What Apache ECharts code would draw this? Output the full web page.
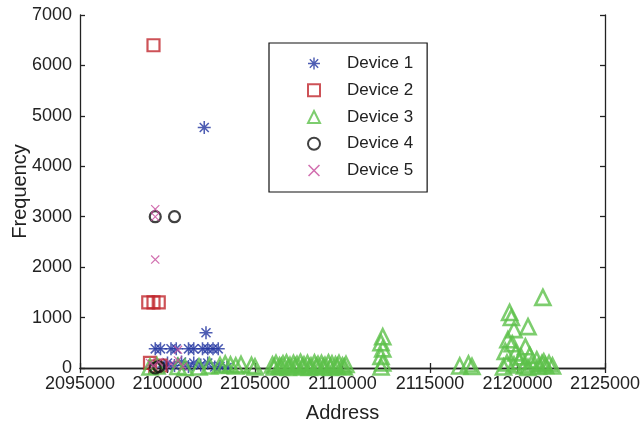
<!DOCTYPE html>
<html>
<head>
<meta charset="utf-8">
<script src="https://cdn.jsdelivr.net/npm/echarts@6/dist/echarts.min.js"></script>
<style>html,body{margin:0;padding:0;background:#fff}#c{width:643px;height:423px}</style>
</head>
<body>
<div id="c"></div>
<script>
// ---- data ----
const seriesNames = ['Device 1', 'Device 2', 'Device 3', 'Device 4', 'Device 5'];
const xTicks = [2095000, 2100000, 2105000, 2110000, 2115000, 2120000, 2125000];
const yTicks = [0, 1000, 2000, 3000, 4000, 5000, 6000, 7000];

const dev1Addr = [2102100, 2102200, 2099300, 2099600, 2100200, 2100500, 2101200, 2101500, 2102000, 2102300, 2102600, 2102900,
  2099800, 2100000, 2100400, 2100800, 2101200, 2101500, 2101900, 2102300, 2102700, 2103000, 2103400];
const dev1Freq = [4770, 700, 380, 380, 380, 380, 380, 380, 380, 380, 380, 380,
  20, 100, 50, 120, 30, 100, 60, 100, 20, 30, 10];

const dev2Addr = [2099200, 2098900, 2099200, 2099500, 2099000, 2099300, 2099600];
const dev2Freq = [6400, 1300, 1300, 1300, 100, 30, 50];

const dev3Addr = [2099000, 2099400, 2100600, 2101000, 2101800, 2102400, 2103000, 2103300, 2103600, 2103900, 2104200, 2104800, 2105000,
  2106000, 2106200, 2106400, 2106600, 2106800, 2107000, 2107200, 2107400, 2107600, 2107800, 2108000, 2108200, 2108400, 2108600, 2108800, 2109000, 2109200, 2109400, 2109600, 2109800, 2110000, 2110200,
  2106100, 2106500, 2106900, 2107300, 2107700, 2108100, 2108500, 2108900, 2109300, 2109700, 2110100,
  2112300, 2112200, 2112300, 2112200, 2112300, 2112200,
  2116700, 2117200, 2117400,
  2121450, 2119550, 2119650, 2120600, 2119800, 2119450, 2120450, 2119700, 2119300, 2119900, 2120200, 2120700, 2121100, 2121500, 2121800, 2119400, 2119800, 2120100, 2120400, 2120800, 2121200, 2121600, 2122000, 2119200, 2120600, 2121400];
const dev3Freq = [20, 40, 30, 10, 20, 40, 50, 80, 60, 40, 70, 50, 20,
  60, 90, 40, 80, 100, 50, 90, 70, 110, 60, 90, 40, 100, 70, 90, 50, 100, 80, 60, 90, 40, 70,
  20, 30, 10, 30, 20, 10, 30, 20, 10, 30, 20,
  620, 500, 380, 230, 100, 20,
  40, 80, 30,
  1400, 1100, 1000, 820, 760, 560, 420, 480, 330, 300, 220, 250, 160, 120, 90, 100, 60, 130, 40, 80, 30, 50, 40, 20, 10, 90];

const dev4Addr = [2099300, 2100400, 2099300, 2099500];
const dev4Freq = [3000, 3000, 0, 30];

const dev5Addr = [2099300, 2099300, 2099300, 2099000, 2099200, 2099500, 2100200, 2100600, 2100900, 2100600];
const dev5Freq = [3150, 3000, 2150, 100, 50, 120, 80, 150, 30, 360];

// ---- symbols ----
const asterisk = 'path://M0,8.8L20,8.8L20,11.2L0,11.2ZM8.8,0L11.2,0L11.2,20L8.8,20ZM2.2,3.9L3.9,2.2L17.8,16.1L16.1,17.8ZM16.1,2.2L17.8,3.9L3.9,17.8L2.2,16.1Z';
const cross = 'path://M2.3,3.7L3.7,2.3L17.7,16.3L16.3,17.7ZM16.3,2.3L17.7,3.7L3.7,17.7L2.3,16.3Z';

function pairs(a, b) { return a.map((v, i) => [v, b[i]]); }

const FONT = 'Liberation Sans, Arial, sans-serif';
const chart = echarts.init(document.getElementById('c'), null, {renderer: 'canvas'});

const hideAxis = {
  axisLine: {show: true, lineStyle: {color: '#222', width: 1.3}},
  axisTick: {show: true, inside: true, length: 5, lineStyle: {color: '#222', width: 1.3}},
  axisLabel: {show: false}, splitLine: {show: false}
};

chart.setOption({
  animation: false,
  backgroundColor: '#fff',
  grid: {left: 80, right: 38, top: 15, bottom: 55, outerBoundsMode: 'none', containLabel: false},
  legend: {
    orient: 'vertical', left: 269, top: 43,
    data: seriesNames,
    backgroundColor: '#fff', borderColor: '#111', borderWidth: 1.2, borderRadius: 0,
    padding: [12, 14, 13, 38],
    itemWidth: 12, itemHeight: 12, itemGap: 9.75,
    textStyle: {fontFamily: FONT, fontSize: 17, color: '#222', padding: [0, 0, 0, 22]}
  },
  xAxis: [{
    type: 'value', min: xTicks[0], max: xTicks[xTicks.length - 1], interval: 5000,
    name: 'Address', nameLocation: 'middle', nameGap: 35, nameMoveOverlap: false,
    nameTextStyle: {fontFamily: FONT, fontSize: 20, color: '#222'},
    axisLine: {show: true, lineStyle: {color: '#222', width: 1.3}},
    axisTick: {show: true, inside: true, length: 5, lineStyle: {color: '#222', width: 1.3}},
    axisLabel: {fontFamily: FONT, fontSize: 18, color: '#222', margin: 7, formatter: v => String(v)},
    splitLine: {show: false}
  }, Object.assign({
    type: 'value', position: 'top', min: xTicks[0], max: xTicks[xTicks.length - 1], interval: 5000
  }, hideAxis)],
  yAxis: [{
    type: 'value', min: yTicks[0], max: yTicks[yTicks.length - 1], interval: 1000,
    name: 'Frequency', nameLocation: 'middle', nameGap: 50, nameMoveOverlap: false,
    nameTextStyle: {fontFamily: FONT, fontSize: 20, color: '#222'},
    axisLine: {show: true, lineStyle: {color: '#222', width: 1.3}},
    axisTick: {show: true, inside: true, length: 5, lineStyle: {color: '#222', width: 1.3}},
    axisLabel: {fontFamily: FONT, fontSize: 18, color: '#222', margin: 8, formatter: v => String(v)},
    splitLine: {show: false}
  }, Object.assign({
    type: 'value', position: 'right', min: yTicks[0], max: yTicks[yTicks.length - 1], interval: 1000
  }, hideAxis)],
  series: [
    {name: seriesNames[0], type: 'scatter', symbol: asterisk, symbolSize: 13,
      itemStyle: {color: '#2234a0'}, data: pairs(dev1Addr, dev1Freq)},
    {name: seriesNames[1], type: 'scatter', symbol: 'rect', symbolSize: 12,
      itemStyle: {color: 'rgba(255,255,255,0)', borderColor: '#c0272d', borderWidth: 2.2}, data: pairs(dev2Addr, dev2Freq)},
    {name: seriesNames[2], type: 'scatter', symbol: 'triangle', symbolSize: 15,
      itemStyle: {color: 'rgba(255,255,255,0)', borderColor: '#5cc04a', borderWidth: 2.6}, data: pairs(dev3Addr, dev3Freq)},
    {name: seriesNames[3], type: 'scatter', symbol: 'circle', symbolSize: 11,
      itemStyle: {color: 'rgba(255,255,255,0)', borderColor: '#111', borderWidth: 2.2}, data: pairs(dev4Addr, dev4Freq)},
    {name: seriesNames[4], type: 'scatter', symbol: cross, symbolSize: 9,
      itemStyle: {color: '#c64a9b'}, data: pairs(dev5Addr, dev5Freq)}
  ]
});
</script>
</body>
</html>
